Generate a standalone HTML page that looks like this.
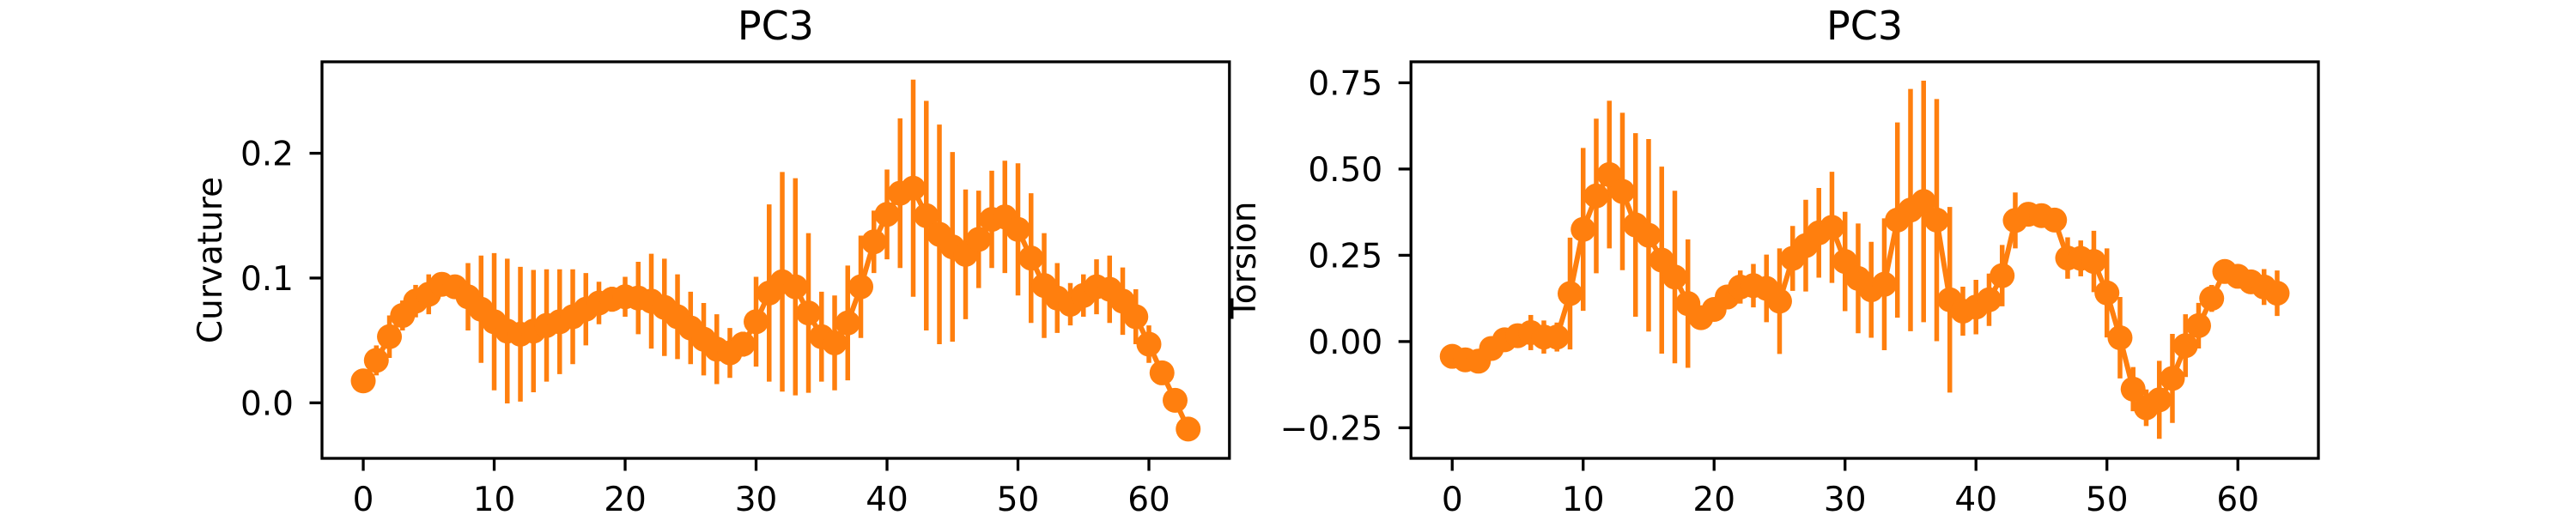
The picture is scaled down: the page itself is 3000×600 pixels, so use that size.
<!DOCTYPE html>
<html><head><meta charset="utf-8"><style>
html,body{margin:0;padding:0;background:#fff;}
svg{display:block;font-family:"DejaVu Sans","Liberation Sans",sans-serif;}
</style></head>
<body>
<svg id="fig" width="3000" height="600" viewBox="0 0 3000 600" xmlns="http://www.w3.org/2000/svg"></svg>
<script>
const xTicks = [0, 10, 20, 30, 40, 50, 60];
const curvTicks = [0.0, 0.1, 0.2];
const curvTickLabels = ["0.0", "0.1", "0.2"];
const torsTicks = [-0.25, 0.0, 0.25, 0.5, 0.75];
const torsTickLabels = ["\u22120.25", "0.00", "0.25", "0.50", "0.75"];
const curvValues = [0.0176,0.034,0.053,0.070,0.0815,0.087,0.095,0.093,0.085,0.075,0.065,0.0575,0.055,0.0575,0.062,0.065,0.069,0.075,0.080,0.083,0.085,0.084,0.0815,0.0765,0.069,0.060,0.051,0.043,0.040,0.047,0.065,0.088,0.097,0.093,0.072,0.053,0.048,0.064,0.093,0.129,0.151,0.168,0.172,0.150,0.135,0.125,0.119,0.131,0.147,0.149,0.139,0.116,0.094,0.084,0.079,0.086,0.093,0.091,0.0815,0.069,0.047,0.024,0.002,-0.021];
const curvErrors = [0.003,0.012,0.017,0.012,0.013,0.016,0.008,0.008,0.027,0.043,0.055,0.058,0.054,0.049,0.045,0.042,0.038,0.029,0.017,0.010,0.016,0.029,0.038,0.039,0.034,0.029,0.029,0.028,0.020,0.010,0.036,0.071,0.088,0.087,0.064,0.036,0.038,0.046,0.041,0.025,0.036,0.060,0.087,0.092,0.088,0.076,0.052,0.039,0.039,0.045,0.053,0.052,0.042,0.028,0.017,0.017,0.022,0.027,0.027,0.022,0.015,0.005,0.004,0.003];
const torsValues = [-0.043,-0.053,-0.057,-0.020,0.005,0.017,0.026,0.013,0.013,0.139,0.325,0.422,0.484,0.435,0.338,0.308,0.236,0.187,0.110,0.069,0.093,0.129,0.158,0.162,0.154,0.117,0.241,0.278,0.315,0.331,0.232,0.183,0.150,0.166,0.352,0.381,0.406,0.352,0.121,0.088,0.100,0.121,0.191,0.351,0.369,0.365,0.352,0.242,0.241,0.232,0.141,0.011,-0.138,-0.192,-0.169,-0.107,-0.012,0.046,0.125,0.203,0.189,0.173,0.158,0.140];
const torsErrors = [0.010,0.010,0.010,0.015,0.020,0.025,0.051,0.048,0.042,0.162,0.236,0.224,0.214,0.228,0.266,0.279,0.271,0.250,0.186,0.020,0.020,0.020,0.048,0.063,0.098,0.153,0.094,0.133,0.130,0.161,0.144,0.159,0.139,0.191,0.283,0.351,0.350,0.351,0.269,0.071,0.079,0.076,0.089,0.081,0.020,0.020,0.020,0.060,0.052,0.089,0.129,0.118,0.064,0.053,0.113,0.129,0.091,0.066,0.039,0.010,0.010,0.020,0.052,0.066];

const NS = "http://www.w3.org/2000/svg";
const svg = document.getElementById("fig");
const COLOR = "#ff7f0e";
function mk(tag, attrs, parent) {
  const e = document.createElementNS(NS, tag);
  for (const k in attrs) e.setAttribute(k, attrs[k]);
  (parent || svg).appendChild(e);
  return e;
}

function drawPanel(opt) {
  const g = mk("g", {});
  
  
  const L = opt.left, R = opt.right, T = 72, B = 534;
  const xmin = -3.15, xmax = 66.15;
  const xs = v => L + (v - xmin) / (xmax - xmin) * (R - L);
  const ys = v => B - (v - opt.ymin) / (opt.ymax - opt.ymin) * (B - T);

  // error bars
  const eg = mk("g", {}, g);
  
  
  opt.values.forEach((v, i) => {
    const e = opt.errors[i];
    const ln = mk("line", {x1: xs(i), x2: xs(i), y1: ys(v - e), y2: ys(v + e), stroke: COLOR, "stroke-width": 5.5}, eg);
    
    
  });
  // line
  const pts = opt.values.map((v, i) => xs(i).toFixed(2) + "," + ys(v).toFixed(2)).join(" ");
  const pl = mk("polyline", {points: pts, fill: "none", stroke: COLOR, "stroke-width": 6, "stroke-linejoin": "round"}, g);
  
  
  // markers
  opt.values.forEach((v, i) => {
    const c = mk("circle", {cx: xs(i), cy: ys(v), r: 14.5, fill: COLOR}, g);
    
    
  });
  // frame
  const fr = mk("rect", {x: L, y: T, width: R - L, height: B - T, fill: "none", stroke: "#000", "stroke-width": 3.3}, g);
  
  
  // x ticks
  xTicks.forEach(t => {
    const x = xs(t);
    const tk = mk("line", {x1: x, x2: x, y1: B, y2: B + 14.5, stroke: "#000", "stroke-width": 3.3}, g);
    
    
    const tx = mk("text", {x: x, y: 595, "font-size": 39, "text-anchor": "middle", fill: "#000"}, g);
    tx.textContent = String(t);
    
    
  });
  // y ticks
  opt.yTicks.forEach((t, i) => {
    const y = ys(t);
    const tk = mk("line", {x1: L - 14.5, x2: L, y1: y, y2: y, stroke: "#000", "stroke-width": 3.3}, g);
    
    
    const tx = mk("text", {x: L - 33, y: y + 14, "font-size": 39, "text-anchor": "end", fill: "#000"}, g);
    tx.textContent = opt.yTickLabels[i];
    
    
  });
  // title
  const ti = mk("text", {x: (L + R) / 2, y: 46, "font-size": 46, "text-anchor": "middle", fill: "#000"}, g);
  ti.textContent = opt.title;
  
  
  // y label
  const yl = mk("text", {x: 0, y: 0, "font-size": 39, "text-anchor": "middle", fill: "#000",
    transform: "translate(" + opt.ylabelX + "," + ((T + B) / 2) + ") rotate(-90)"}, g);
  yl.textContent = opt.ylabel;
  
  
}

drawPanel({name: "curvature-chart", left: 375, right: 1431.8, ymin: -0.0445, ymax: 0.2733,
  values: curvValues, errors: curvErrors, yTicks: curvTicks, yTickLabels: curvTickLabels,
  title: "PC3", ylabel: "Curvature", ylabelX: 258});
drawPanel({name: "torsion-chart", left: 1643.2, right: 2700, ymin: -0.3386, ymax: 0.8108,
  values: torsValues, errors: torsErrors, yTicks: torsTicks, yTickLabels: torsTickLabels,
  title: "PC3", ylabel: "Torsion", ylabelX: 1462});
</script>
</body></html>
